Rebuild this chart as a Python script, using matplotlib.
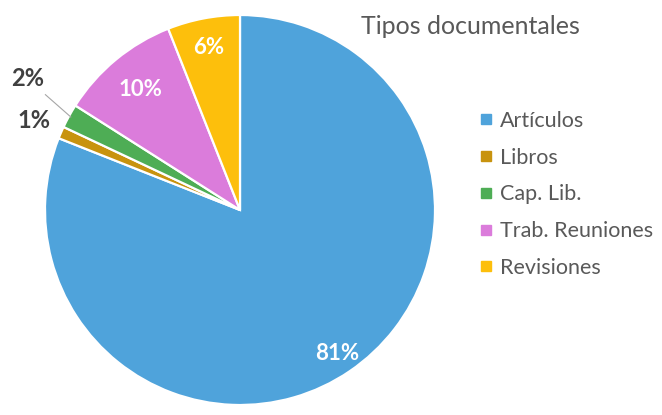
import numpy as np
import matplotlib.pyplot as plt

# Tipos documentales (porcentaje)
categorias = ["Artículos", "Libros", "Cap. Lib.", "Trab. Reuniones", "Revisiones"]
valores = [81, 1, 2, 10, 6]
colores = ["#4FA3DB", "#C8930E", "#4EAD55", "#DB7CDB", "#FDBF0C"]

plt.rcParams['font.family'] = ['Lato', 'DejaVu Sans']

fig = plt.figure(figsize=(6.62, 4.15), dpi=100)
W, H = 662, 415
cx, cy, r = 240, 210, 195
ax = fig.add_axes([(cx - r) / W, 1 - (cy + r) / H, 2 * r / W, 2 * r / H])

wedges, _ = ax.pie(valores, colors=colores, startangle=90, counterclock=False,
                   wedgeprops=dict(edgecolor="white", linewidth=1.6))
ax.set_xlim(-1, 1)
ax.set_ylim(-1, 1)
ax.set_aspect('equal')

# etiquetas de porcentaje
dist_in = [0.89, None, None, 0.80, 0.85]
dist_out = [None, 1.15, 1.28, None, None]
for i, w in enumerate(wedges):
    ang = np.deg2rad((w.theta1 + w.theta2) / 2)
    txt = "%d%%" % valores[i]
    if dist_in[i] is not None:
        d = dist_in[i]
        ax.text(d * np.cos(ang), d * np.sin(ang), txt, color="white",
                fontsize=16, fontweight="bold", ha="center", va="center")
    else:
        d = dist_out[i]
        ang2 = ang + np.deg2rad(-3 if i == 2 else 0)
        ax.text(d * np.cos(ang2), d * np.sin(ang2), txt, color="#404040",
                fontsize=17, fontweight="bold", ha="center", va="center",
                clip_on=False)
        if i == 2:
            ax.plot([0.99 * np.cos(ang), 1.16 * np.cos(ang2 + 0.02)],
                    [0.99 * np.sin(ang), 1.16 * np.sin(ang2 + 0.02)],
                    color="#A6A6A6", lw=0.8, clip_on=False)

fig.text(470 / W, 1 - 27 / H, "Tipos documentales", fontsize=18,
         color="#595959", ha="center", va="center")

handles = [plt.Line2D([], [], marker='s', linestyle='none', markersize=6.5,
                      markerfacecolor=c, markeredgecolor=c) for c in colores]
fig.legend(handles, categorias, loc="upper left",
           bbox_to_anchor=(469 / W, 1 - 100 / H), frameon=False,
           fontsize=15.5, labelcolor="#595959", handlelength=0.6,
           handletextpad=0.35, labelspacing=0.78, borderpad=0)

fig.savefig("out.png", dpi=100)
